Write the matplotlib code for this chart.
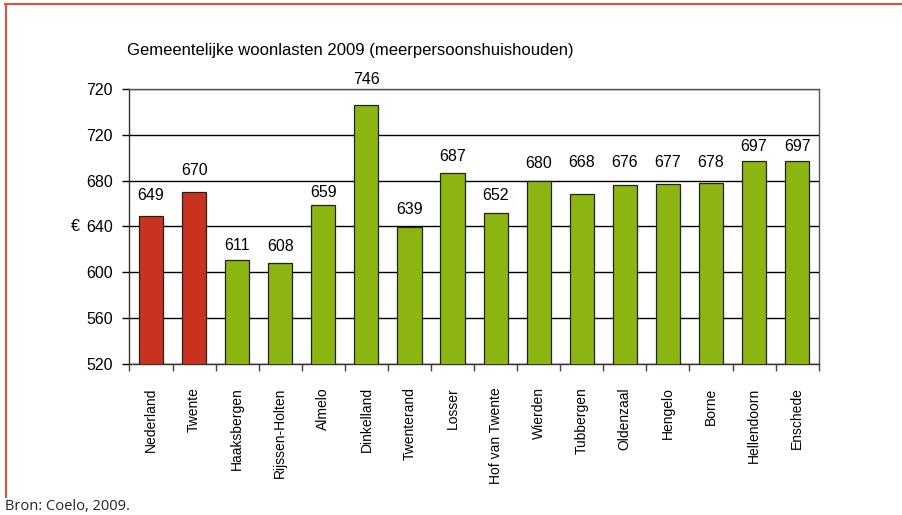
import matplotlib.pyplot as plt
from matplotlib.lines import Line2D

plt.rcParams['font.family'] = ['Liberation Sans', 'DejaVu Sans']

gemeenten = ["Nederland", "Twente", "Haaksbergen", "Rijssen-Holten", "Almelo",
             "Dinkelland", "Twenterand", "Losser", "Hof van Twente", "Wierden",
             "Tubbergen", "Oldenzaal", "Hengelo", "Borne", "Hellendoorn", "Enschede"]
woonlasten = [649, 670, 611, 608, 659, 746, 639, 687, 652, 680, 668, 676, 677, 678, 697, 697]
yticks = [520, 560, 600, 640, 680, 720, 760]
ytick_labels = ["520", "560", "600", "640", "680", "720", "720"]

# how far above each bar the value label sits (the original placed them by hand)
label_lift = [18, 19, 12, 14, 11, 22, 16, 14, 15, 14.5, 28, 20, 19, 18, 13, 13]

red = "#C8321E"
green = "#8DB512"
colors = [red, red] + [green] * (len(gemeenten) - 2)

fig = plt.figure(figsize=(9.03, 5.15), dpi=100)
ax = fig.add_axes([0.1434, 0.2938, 0.7632, 0.5334])

x = list(range(len(gemeenten)))
ax.bar(x, woonlasten, width=0.56, color=colors, edgecolor="#222222",
       linewidth=0.9, zorder=3)
for xi, v, d in zip(x, woonlasten, label_lift):
    ax.text(xi, v + d, str(v), ha="center", va="center", fontsize=11.5, zorder=4,
            clip_on=False)

ax.set_xlim(-0.5, len(gemeenten) - 0.5)
ax.set_ylim(520, 760)
ax.set_yticks(yticks)
ax.set_yticklabels(ytick_labels, fontsize=11.5)
ax.yaxis.grid(True, color="black", linewidth=1.0, zorder=0)
ax.tick_params(axis="y", direction="out", length=5, width=1, pad=7)

ax.set_xticks([i + 0.5 for i in x[:-1]] + [-0.5, len(gemeenten) - 0.5])
ax.set_xticklabels([])
ax.set_xticks(x, minor=True)
ax.set_xticklabels(gemeenten, minor=True, rotation=90, fontsize=10)
ax.tick_params(axis="x", which="major", direction="out", length=5, width=1, colors="#444444")
ax.tick_params(axis="x", which="minor", length=0, pad=17)

for s in ax.spines.values():
    s.set_color("#555555")
    s.set_linewidth(1.0)
ax.spines["left"].set_color("#333333")
ax.spines["bottom"].set_color("#333333")

fig.text(0.141, 0.902, "Gemeentelijke woonlasten 2009 (meerpersoonshuishouden)",
         fontsize=12, ha="left", va="center")
fig.text(0.079, 0.560, "€", fontsize=11.5, ha="left", va="center")
fig.text(0.006, 0.009, "Bron: Coelo, 2009.", fontsize=10.5, ha="left", va="baseline",
         family=["Open Sans", "DejaVu Sans"], color="#222222")

border = "#E0503C"
fig.add_artist(Line2D([0.0055, 1.0], [0.9915, 0.9915], color=border, linewidth=1.5,
                      transform=fig.transFigure))
fig.add_artist(Line2D([0.0066, 0.0066], [0.9915, 0.035], color=border, linewidth=1.5,
                      transform=fig.transFigure))

fig.savefig("out.png", dpi=100)
